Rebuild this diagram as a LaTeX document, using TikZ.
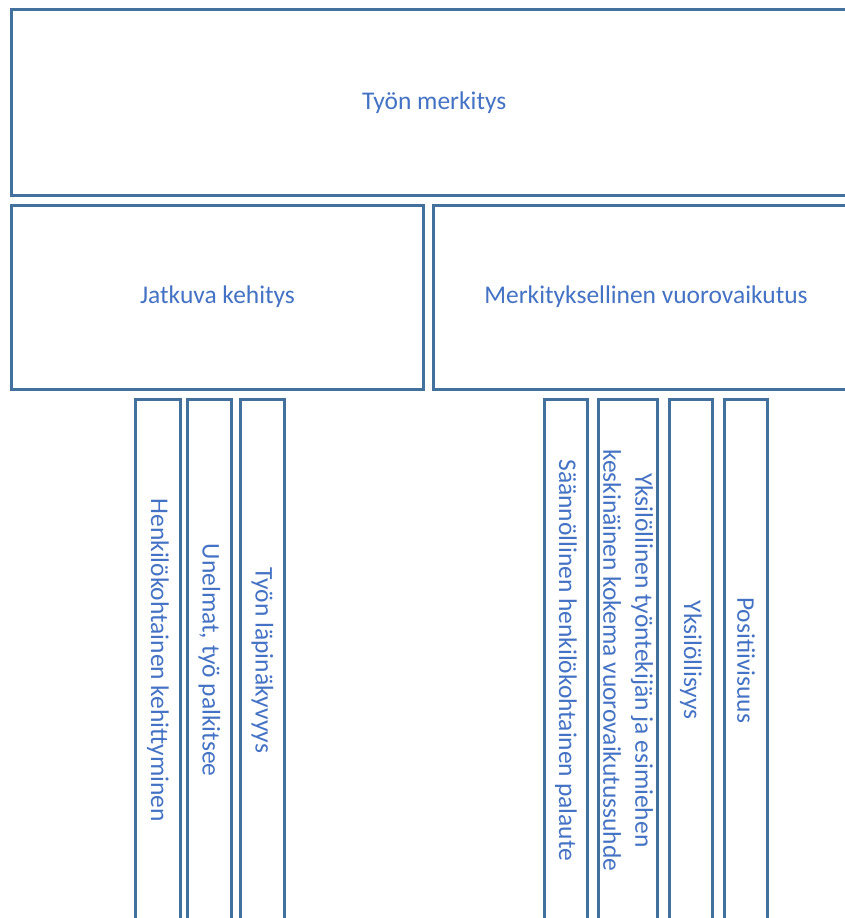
\documentclass[tikz,border=0pt]{standalone}
\usepackage{fontspec}
\setmainfont{Carlito}
\definecolor{edge}{HTML}{41719C}
\definecolor{txt}{HTML}{4472C4}
\begin{document}
\begin{tikzpicture}[x=0.75pt,y=-0.75pt,
  box/.style={draw=edge,line width=2.25pt,fill=white,inner sep=0pt,text=txt,
    font=\fontsize{19.1}{24}\selectfont,align=center},
  tall/.style={box,rotate=-90,minimum width={521.5*0.75pt}}]
\useasboundingbox (0,0) rectangle (845,918);
\clip (0,0) rectangle (845,918);
\node[box,minimum width={845.5*0.75pt},minimum height={186*0.75pt}] (top) at (434.25,102.5) {Työn merkitys};
\node[box,minimum width={412*0.75pt},minimum height={184*0.75pt}] (left) at (217.5,297) {Jatkuva kehitys};
\node[box,minimum width={425*0.75pt},minimum height={184*0.75pt}] (right) at (646,297) {Merkityksellinen vuorovaikutus};
\node[tall,minimum height={45*0.75pt}] (t1) at (158,660.25) {Henkilökohtainen kehittyminen};
\node[tall,minimum height={44*0.75pt}] (t2) at (209.5,660.25) {Unelmat, työ palkitsee};
\node[tall,minimum height={44*0.75pt}] (t3) at (262.5,660.25) {Työn läpinäkyvyys};
\node[tall,minimum height={43*0.75pt}] (ta) at (566,660.25) {Säännöllinen henkilökohtainen palaute};
\node[tall,minimum height={59*0.75pt}] (tb) at (628,660.25) {Yksilöllinen työntekijän ja esimiehen\\keskinäinen kokema vuorovaikutussuhde};
\node[tall,minimum height={43*0.75pt}] (tc) at (691,660.25) {Yksilöllisyys};
\node[tall,minimum height={43*0.75pt}] (td) at (746,660.25) {Positiivisuus};
\end{tikzpicture}
\end{document}
